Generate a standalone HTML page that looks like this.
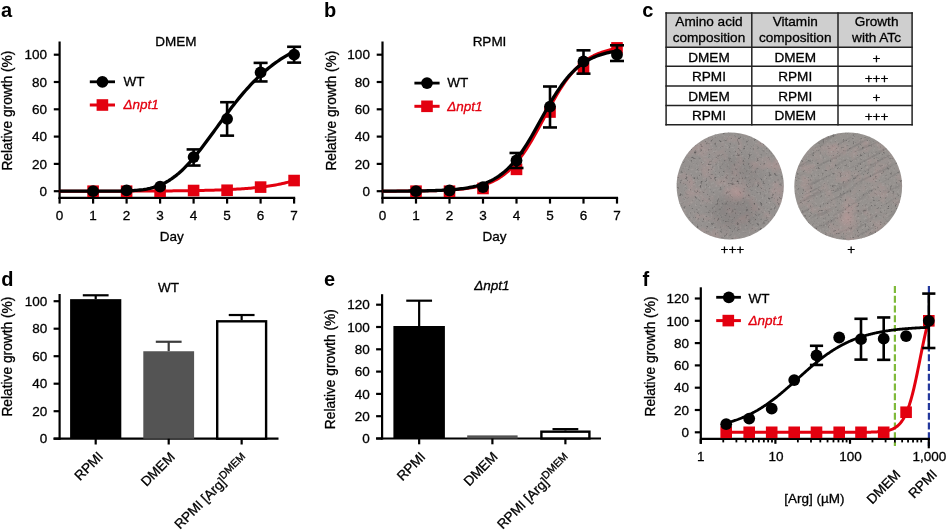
<!DOCTYPE html>
<html><head><meta charset="utf-8"><style>
html,body{margin:0;padding:0;background:#fff;width:946px;height:532px;overflow:hidden}
svg{display:block;font-family:"Liberation Sans",sans-serif;will-change:transform}
text{stroke:#000;stroke-width:0.3px}
</style></head><body>
<svg width="946" height="532" viewBox="0 0 946 532">
<rect width="946" height="532" fill="#fff"/>
<line x1="59.60" y1="41.50" x2="59.60" y2="199.00" stroke="#000" stroke-width="2.2" />
<line x1="58.50" y1="197.90" x2="295.20" y2="197.90" stroke="#000" stroke-width="2.2" />
<line x1="53.80" y1="191.20" x2="59.60" y2="191.20" stroke="#000" stroke-width="2.2" />
<text x="47.00" y="195.90" font-size="13.5" text-anchor="end" font-weight="normal" font-style="normal" fill="#000" >0</text>
<line x1="53.80" y1="163.90" x2="59.60" y2="163.90" stroke="#000" stroke-width="2.2" />
<text x="47.00" y="168.60" font-size="13.5" text-anchor="end" font-weight="normal" font-style="normal" fill="#000" >20</text>
<line x1="53.80" y1="136.60" x2="59.60" y2="136.60" stroke="#000" stroke-width="2.2" />
<text x="47.00" y="141.30" font-size="13.5" text-anchor="end" font-weight="normal" font-style="normal" fill="#000" >40</text>
<line x1="53.80" y1="109.30" x2="59.60" y2="109.30" stroke="#000" stroke-width="2.2" />
<text x="47.00" y="114.00" font-size="13.5" text-anchor="end" font-weight="normal" font-style="normal" fill="#000" >60</text>
<line x1="53.80" y1="82.00" x2="59.60" y2="82.00" stroke="#000" stroke-width="2.2" />
<text x="47.00" y="86.70" font-size="13.5" text-anchor="end" font-weight="normal" font-style="normal" fill="#000" >80</text>
<line x1="53.80" y1="54.70" x2="59.60" y2="54.70" stroke="#000" stroke-width="2.2" />
<text x="47.00" y="59.40" font-size="13.5" text-anchor="end" font-weight="normal" font-style="normal" fill="#000" >100</text>
<line x1="59.60" y1="197.90" x2="59.60" y2="203.60" stroke="#000" stroke-width="2.2" />
<text x="59.60" y="219.90" font-size="13.5" text-anchor="middle" font-weight="normal" font-style="normal" fill="#000" >0</text>
<line x1="93.10" y1="197.90" x2="93.10" y2="203.60" stroke="#000" stroke-width="2.2" />
<text x="93.10" y="219.90" font-size="13.5" text-anchor="middle" font-weight="normal" font-style="normal" fill="#000" >1</text>
<line x1="126.60" y1="197.90" x2="126.60" y2="203.60" stroke="#000" stroke-width="2.2" />
<text x="126.60" y="219.90" font-size="13.5" text-anchor="middle" font-weight="normal" font-style="normal" fill="#000" >2</text>
<line x1="160.10" y1="197.90" x2="160.10" y2="203.60" stroke="#000" stroke-width="2.2" />
<text x="160.10" y="219.90" font-size="13.5" text-anchor="middle" font-weight="normal" font-style="normal" fill="#000" >3</text>
<line x1="193.60" y1="197.90" x2="193.60" y2="203.60" stroke="#000" stroke-width="2.2" />
<text x="193.60" y="219.90" font-size="13.5" text-anchor="middle" font-weight="normal" font-style="normal" fill="#000" >4</text>
<line x1="227.10" y1="197.90" x2="227.10" y2="203.60" stroke="#000" stroke-width="2.2" />
<text x="227.10" y="219.90" font-size="13.5" text-anchor="middle" font-weight="normal" font-style="normal" fill="#000" >5</text>
<line x1="260.60" y1="197.90" x2="260.60" y2="203.60" stroke="#000" stroke-width="2.2" />
<text x="260.60" y="219.90" font-size="13.5" text-anchor="middle" font-weight="normal" font-style="normal" fill="#000" >6</text>
<line x1="294.10" y1="197.90" x2="294.10" y2="203.60" stroke="#000" stroke-width="2.2" />
<text x="294.10" y="219.90" font-size="13.5" text-anchor="middle" font-weight="normal" font-style="normal" fill="#000" >7</text>
<text x="171.70" y="240.60" font-size="13.5" text-anchor="middle" font-weight="normal" font-style="normal" fill="#000" >Day</text>
<text x="175.90" y="46.30" font-size="13.5" text-anchor="middle" font-weight="normal" font-style="normal" fill="#000" >DMEM</text>
<text transform="translate(12.40,110.60) rotate(-90)" x="0" y="0" font-size="13.75" text-anchor="middle">Relative growth (%)</text>
<polyline points="59.60,191.19 61.27,191.19 62.95,191.19 64.62,191.19 66.30,191.18 67.97,191.18 69.65,191.18 71.33,191.18 73.00,191.18 74.67,191.18 76.35,191.18 78.03,191.18 79.70,191.18 81.38,191.18 83.05,191.17 84.72,191.17 86.40,191.17 88.08,191.17 89.75,191.17 91.42,191.17 93.10,191.17 94.78,191.16 96.45,191.16 98.12,191.16 99.80,191.16 101.47,191.16 103.15,191.16 104.83,191.15 106.50,191.15 108.17,191.15 109.85,191.15 111.53,191.14 113.20,191.14 114.88,191.14 116.55,191.13 118.22,191.13 119.90,191.13 121.58,191.12 123.25,191.12 124.93,191.12 126.60,191.11 128.28,191.11 129.95,191.10 131.62,191.10 133.30,191.09 134.97,191.09 136.65,191.08 138.33,191.08 140.00,191.07 141.68,191.07 143.35,191.06 145.03,191.05 146.70,191.04 148.38,191.04 150.05,191.03 151.72,191.02 153.40,191.01 155.08,191.00 156.75,190.99 158.43,190.98 160.10,190.97 161.78,190.96 163.45,190.95 165.12,190.94 166.80,190.92 168.47,190.91 170.15,190.89 171.83,190.88 173.50,190.86 175.18,190.85 176.85,190.83 178.53,190.81 180.20,190.79 181.88,190.77 183.55,190.75 185.22,190.73 186.90,190.71 188.57,190.68 190.25,190.66 191.93,190.63 193.60,190.60 195.27,190.57 196.95,190.54 198.62,190.51 200.30,190.48 201.97,190.44 203.65,190.40 205.32,190.36 207.00,190.32 208.68,190.28 210.35,190.23 212.02,190.19 213.70,190.14 215.38,190.08 217.05,190.03 218.72,189.97 220.40,189.91 222.07,189.85 223.75,189.78 225.43,189.71 227.10,189.64 228.77,189.56 230.45,189.48 232.12,189.40 233.80,189.31 235.47,189.22 237.15,189.12 238.82,189.02 240.50,188.91 242.18,188.80 243.85,188.68 245.52,188.55 247.20,188.42 248.88,188.29 250.55,188.14 252.22,187.99 253.90,187.84 255.57,187.67 257.25,187.50 258.93,187.31 260.60,187.12 262.27,186.92 263.95,186.71 265.62,186.49 267.30,186.26 268.98,186.02 270.65,185.76 272.32,185.50 274.00,185.21 275.68,184.92 277.35,184.61 279.02,184.29 280.70,183.95 282.38,183.59 284.05,183.22 285.73,182.82 287.40,182.41 289.07,181.98 290.75,181.53 292.43,181.05 294.10,180.55" fill="none" stroke="#e3000f" stroke-width="3.0" stroke-linejoin="round" stroke-linecap="butt"/>
<rect x="87.30" y="185.40" width="11.60" height="11.60" fill="#e3000f" />
<rect x="120.80" y="185.40" width="11.60" height="11.60" fill="#e3000f" />
<rect x="154.30" y="185.40" width="11.60" height="11.60" fill="#e3000f" />
<rect x="187.80" y="184.72" width="11.60" height="11.60" fill="#e3000f" />
<rect x="221.30" y="184.44" width="11.60" height="11.60" fill="#e3000f" />
<rect x="254.80" y="181.30" width="11.60" height="11.60" fill="#e3000f" />
<rect x="288.30" y="174.75" width="11.60" height="11.60" fill="#e3000f" />
<polyline points="59.60,191.20 61.27,191.20 62.95,191.20 64.62,191.20 66.30,191.20 67.97,191.20 69.65,191.20 71.33,191.20 73.00,191.20 74.67,191.20 76.35,191.20 78.03,191.20 79.70,191.20 81.38,191.20 83.05,191.20 84.72,191.20 86.40,191.20 88.08,191.20 89.75,191.20 91.42,191.20 93.10,191.20 94.78,191.20 96.45,191.20 98.12,191.19 99.80,191.19 101.47,191.19 103.15,191.19 104.83,191.18 106.50,191.18 108.17,191.17 109.85,191.17 111.53,191.16 113.20,191.15 114.88,191.13 116.55,191.12 118.22,191.09 119.90,191.07 121.58,191.04 123.25,191.00 124.93,190.96 126.60,190.91 128.28,190.85 129.95,190.77 131.62,190.69 133.30,190.59 134.97,190.47 136.65,190.34 138.33,190.18 140.00,190.00 141.68,189.80 143.35,189.57 145.03,189.30 146.70,189.01 148.38,188.67 150.05,188.30 151.72,187.89 153.40,187.43 155.08,186.92 156.75,186.36 158.43,185.74 160.10,185.07 161.78,184.35 163.45,183.56 165.12,182.70 166.80,181.78 168.47,180.80 170.15,179.75 171.83,178.62 173.50,177.43 175.18,176.17 176.85,174.84 178.53,173.44 180.20,171.97 181.88,170.44 183.55,168.83 185.22,167.17 186.90,165.44 188.57,163.65 190.25,161.80 191.93,159.90 193.60,157.94 195.27,155.94 196.95,153.89 198.62,151.80 200.30,149.67 201.97,147.51 203.65,145.31 205.32,143.09 207.00,140.84 208.68,138.58 210.35,136.30 212.02,134.01 213.70,131.71 215.38,129.40 217.05,127.10 218.72,124.80 220.40,122.50 222.07,120.21 223.75,117.94 225.43,115.67 227.10,113.43 228.77,111.21 230.45,109.01 232.12,106.83 233.80,104.68 235.47,102.56 237.15,100.47 238.82,98.41 240.50,96.38 242.18,94.39 243.85,92.44 245.52,90.52 247.20,88.64 248.88,86.79 250.55,84.99 252.22,83.23 253.90,81.50 255.57,79.81 257.25,78.17 258.93,76.56 260.60,75.00 262.27,73.47 263.95,71.99 265.62,70.54 267.30,69.13 268.98,67.77 270.65,66.44 272.32,65.14 274.00,63.89 275.68,62.67 277.35,61.49 279.02,60.34 280.70,59.23 282.38,58.15 284.05,57.11 285.73,56.10 287.40,55.12 289.07,54.17 290.75,53.26 292.43,52.37 294.10,51.51" fill="none" stroke="#000" stroke-width="3.3" stroke-linejoin="round" stroke-linecap="butt"/>
<circle cx="93.10" cy="191.20" r="5.9" fill="#000"/>
<circle cx="126.60" cy="190.38" r="5.9" fill="#000"/>
<circle cx="160.10" cy="186.56" r="5.9" fill="#000"/>
<line x1="193.60" y1="149.43" x2="193.60" y2="165.54" stroke="#000" stroke-width="2.6" />
<line x1="186.60" y1="149.43" x2="200.60" y2="149.43" stroke="#000" stroke-width="2.6" />
<line x1="186.60" y1="165.54" x2="200.60" y2="165.54" stroke="#000" stroke-width="2.6" />
<circle cx="193.60" cy="157.07" r="5.9" fill="#000"/>
<line x1="227.10" y1="102.20" x2="227.10" y2="135.64" stroke="#000" stroke-width="2.6" />
<line x1="220.10" y1="102.20" x2="234.10" y2="102.20" stroke="#000" stroke-width="2.6" />
<line x1="220.10" y1="135.64" x2="234.10" y2="135.64" stroke="#000" stroke-width="2.6" />
<circle cx="227.10" cy="118.85" r="5.9" fill="#000"/>
<line x1="260.60" y1="62.89" x2="260.60" y2="81.45" stroke="#000" stroke-width="2.6" />
<line x1="253.60" y1="62.89" x2="267.60" y2="62.89" stroke="#000" stroke-width="2.6" />
<line x1="253.60" y1="81.45" x2="267.60" y2="81.45" stroke="#000" stroke-width="2.6" />
<circle cx="260.60" cy="72.44" r="5.9" fill="#000"/>
<line x1="294.10" y1="46.78" x2="294.10" y2="62.62" stroke="#000" stroke-width="2.6" />
<line x1="287.10" y1="46.78" x2="301.10" y2="46.78" stroke="#000" stroke-width="2.6" />
<line x1="287.10" y1="62.62" x2="301.10" y2="62.62" stroke="#000" stroke-width="2.6" />
<circle cx="294.10" cy="54.70" r="5.9" fill="#000"/>
<line x1="89.80" y1="81.80" x2="115.00" y2="81.80" stroke="#000" stroke-width="2.8" />
<circle cx="102.40" cy="81.80" r="5.9" fill="#000"/>
<line x1="89.80" y1="105.00" x2="115.00" y2="105.00" stroke="#e3000f" stroke-width="3.0" />
<rect x="96.60" y="99.20" width="11.60" height="11.60" fill="#e3000f" />
<text x="123.40" y="86.00" font-size="13.5" text-anchor="start" font-weight="normal" font-style="normal" fill="#000" >WT</text>
<text x="123.40" y="109.40" font-size="13.5" text-anchor="start" font-weight="normal" font-style="italic" fill="#e3000f" style="stroke:#e3000f" >Δnpt1</text>
<line x1="382.50" y1="41.50" x2="382.50" y2="199.00" stroke="#000" stroke-width="2.2" />
<line x1="381.40" y1="197.90" x2="618.10" y2="197.90" stroke="#000" stroke-width="2.2" />
<line x1="376.70" y1="191.20" x2="382.50" y2="191.20" stroke="#000" stroke-width="2.2" />
<text x="369.90" y="195.90" font-size="13.5" text-anchor="end" font-weight="normal" font-style="normal" fill="#000" >0</text>
<line x1="376.70" y1="163.90" x2="382.50" y2="163.90" stroke="#000" stroke-width="2.2" />
<text x="369.90" y="168.60" font-size="13.5" text-anchor="end" font-weight="normal" font-style="normal" fill="#000" >20</text>
<line x1="376.70" y1="136.60" x2="382.50" y2="136.60" stroke="#000" stroke-width="2.2" />
<text x="369.90" y="141.30" font-size="13.5" text-anchor="end" font-weight="normal" font-style="normal" fill="#000" >40</text>
<line x1="376.70" y1="109.30" x2="382.50" y2="109.30" stroke="#000" stroke-width="2.2" />
<text x="369.90" y="114.00" font-size="13.5" text-anchor="end" font-weight="normal" font-style="normal" fill="#000" >60</text>
<line x1="376.70" y1="82.00" x2="382.50" y2="82.00" stroke="#000" stroke-width="2.2" />
<text x="369.90" y="86.70" font-size="13.5" text-anchor="end" font-weight="normal" font-style="normal" fill="#000" >80</text>
<line x1="376.70" y1="54.70" x2="382.50" y2="54.70" stroke="#000" stroke-width="2.2" />
<text x="369.90" y="59.40" font-size="13.5" text-anchor="end" font-weight="normal" font-style="normal" fill="#000" >100</text>
<line x1="382.50" y1="197.90" x2="382.50" y2="203.60" stroke="#000" stroke-width="2.2" />
<text x="382.50" y="219.90" font-size="13.5" text-anchor="middle" font-weight="normal" font-style="normal" fill="#000" >0</text>
<line x1="416.00" y1="197.90" x2="416.00" y2="203.60" stroke="#000" stroke-width="2.2" />
<text x="416.00" y="219.90" font-size="13.5" text-anchor="middle" font-weight="normal" font-style="normal" fill="#000" >1</text>
<line x1="449.50" y1="197.90" x2="449.50" y2="203.60" stroke="#000" stroke-width="2.2" />
<text x="449.50" y="219.90" font-size="13.5" text-anchor="middle" font-weight="normal" font-style="normal" fill="#000" >2</text>
<line x1="483.00" y1="197.90" x2="483.00" y2="203.60" stroke="#000" stroke-width="2.2" />
<text x="483.00" y="219.90" font-size="13.5" text-anchor="middle" font-weight="normal" font-style="normal" fill="#000" >3</text>
<line x1="516.50" y1="197.90" x2="516.50" y2="203.60" stroke="#000" stroke-width="2.2" />
<text x="516.50" y="219.90" font-size="13.5" text-anchor="middle" font-weight="normal" font-style="normal" fill="#000" >4</text>
<line x1="550.00" y1="197.90" x2="550.00" y2="203.60" stroke="#000" stroke-width="2.2" />
<text x="550.00" y="219.90" font-size="13.5" text-anchor="middle" font-weight="normal" font-style="normal" fill="#000" >5</text>
<line x1="583.50" y1="197.90" x2="583.50" y2="203.60" stroke="#000" stroke-width="2.2" />
<text x="583.50" y="219.90" font-size="13.5" text-anchor="middle" font-weight="normal" font-style="normal" fill="#000" >6</text>
<line x1="617.00" y1="197.90" x2="617.00" y2="203.60" stroke="#000" stroke-width="2.2" />
<text x="617.00" y="219.90" font-size="13.5" text-anchor="middle" font-weight="normal" font-style="normal" fill="#000" >7</text>
<text x="494.60" y="240.60" font-size="13.5" text-anchor="middle" font-weight="normal" font-style="normal" fill="#000" >Day</text>
<text x="489.50" y="46.30" font-size="13.5" text-anchor="middle" font-weight="normal" font-style="normal" fill="#000" >RPMI</text>
<text transform="translate(336.30,110.60) rotate(-90)" x="0" y="0" font-size="13.75" text-anchor="middle">Relative growth (%)</text>
<polyline points="382.50,191.16 384.18,191.16 385.85,191.16 387.52,191.15 389.20,191.15 390.88,191.14 392.55,191.14 394.23,191.13 395.90,191.13 397.57,191.12 399.25,191.11 400.93,191.11 402.60,191.10 404.27,191.09 405.95,191.08 407.62,191.07 409.30,191.06 410.98,191.04 412.65,191.03 414.32,191.02 416.00,191.00 417.68,190.98 419.35,190.96 421.02,190.94 422.70,190.92 424.38,190.89 426.05,190.86 427.73,190.83 429.40,190.80 431.07,190.76 432.75,190.72 434.43,190.68 436.10,190.64 437.77,190.58 439.45,190.53 441.12,190.47 442.80,190.40 444.48,190.33 446.15,190.26 447.82,190.17 449.50,190.08 451.18,189.98 452.85,189.87 454.52,189.75 456.20,189.62 457.88,189.48 459.55,189.33 461.23,189.16 462.90,188.98 464.57,188.79 466.25,188.57 467.93,188.34 469.60,188.09 471.27,187.82 472.95,187.52 474.62,187.20 476.30,186.85 477.98,186.47 479.65,186.06 481.32,185.61 483.00,185.13 484.68,184.61 486.35,184.04 488.02,183.43 489.70,182.77 491.38,182.06 493.05,181.29 494.73,180.47 496.40,179.58 498.07,178.62 499.75,177.60 501.43,176.49 503.10,175.31 504.77,174.05 506.45,172.70 508.12,171.27 509.80,169.74 511.48,168.11 513.15,166.38 514.83,164.56 516.50,162.63 518.17,160.59 519.85,158.46 521.52,156.21 523.20,153.87 524.88,151.42 526.55,148.88 528.23,146.24 529.90,143.52 531.58,140.71 533.25,137.82 534.92,134.87 536.60,131.86 538.27,128.80 539.95,125.70 541.62,122.57 543.30,119.43 544.98,116.28 546.65,113.14 548.33,110.02 550.00,106.93 551.67,103.88 553.35,100.88 555.02,97.94 556.70,95.07 558.38,92.28 560.05,89.57 561.73,86.95 563.40,84.43 565.08,82.00 566.75,79.68 568.42,77.45 570.10,75.34 571.77,73.32 573.45,71.42 575.12,69.61 576.80,67.90 578.48,66.30 580.15,64.78 581.83,63.36 583.50,62.03 585.17,60.79 586.85,59.62 588.52,58.54 590.20,57.53 591.88,56.58 593.55,55.71 595.23,54.89 596.90,54.14 598.58,53.44 600.25,52.79 601.92,52.19 603.60,51.63 605.27,51.12 606.95,50.64 608.62,50.20 610.30,49.80 611.98,49.43 613.65,49.08 615.33,48.76 617.00,48.47" fill="none" stroke="#e3000f" stroke-width="3.0" stroke-linejoin="round" stroke-linecap="butt"/>
<rect x="410.20" y="185.40" width="11.60" height="11.60" fill="#e3000f" />
<rect x="443.70" y="185.40" width="11.60" height="11.60" fill="#e3000f" />
<rect x="477.20" y="182.67" width="11.60" height="11.60" fill="#e3000f" />
<rect x="510.70" y="163.56" width="11.60" height="11.60" fill="#e3000f" />
<rect x="544.20" y="106.23" width="11.60" height="11.60" fill="#e3000f" />
<rect x="577.70" y="62.55" width="11.60" height="11.60" fill="#e3000f" />
<rect x="611.20" y="42.08" width="11.60" height="11.60" fill="#e3000f" />
<polyline points="382.50,191.15 384.18,191.15 385.85,191.15 387.52,191.14 389.20,191.14 390.88,191.13 392.55,191.12 394.23,191.12 395.90,191.11 397.57,191.10 399.25,191.09 400.93,191.08 402.60,191.07 404.27,191.06 405.95,191.05 407.62,191.03 409.30,191.02 410.98,191.00 412.65,190.99 414.32,190.97 416.00,190.95 417.68,190.93 419.35,190.90 421.02,190.87 422.70,190.85 424.38,190.81 426.05,190.78 427.73,190.74 429.40,190.70 431.07,190.66 432.75,190.61 434.43,190.56 436.10,190.50 437.77,190.44 439.45,190.37 441.12,190.30 442.80,190.22 444.48,190.14 446.15,190.04 447.82,189.94 449.50,189.83 451.18,189.71 452.85,189.58 454.52,189.44 456.20,189.28 457.88,189.11 459.55,188.93 461.23,188.73 462.90,188.52 464.57,188.28 466.25,188.03 467.93,187.76 469.60,187.46 471.27,187.14 472.95,186.79 474.62,186.41 476.30,186.00 477.98,185.55 479.65,185.08 481.32,184.56 483.00,184.00 484.68,183.39 486.35,182.74 488.02,182.04 489.70,181.28 491.38,180.47 493.05,179.59 494.73,178.65 496.40,177.64 498.07,176.56 499.75,175.41 501.43,174.17 503.10,172.86 504.77,171.45 506.45,169.96 508.12,168.38 509.80,166.70 511.48,164.92 513.15,163.05 514.83,161.08 516.50,159.00 518.17,156.83 519.85,154.56 521.52,152.20 523.20,149.74 524.88,147.19 526.55,144.56 528.23,141.85 529.90,139.07 531.58,136.22 533.25,133.31 534.92,130.36 536.60,127.37 538.27,124.35 539.95,121.32 541.62,118.28 543.30,115.24 544.98,112.22 546.65,109.23 548.33,106.27 550.00,103.36 551.67,100.51 553.35,97.72 555.02,95.00 556.70,92.36 558.38,89.81 560.05,87.34 561.73,84.97 563.40,82.69 565.08,80.51 566.75,78.43 568.42,76.45 570.10,74.57 571.77,72.79 573.45,71.10 575.12,69.51 576.80,68.01 578.48,66.60 580.15,65.28 581.83,64.04 583.50,62.87 585.17,61.79 586.85,60.77 588.52,59.83 590.20,58.95 591.88,58.13 593.55,57.37 595.23,56.66 596.90,56.01 598.58,55.40 600.25,54.83 601.92,54.31 603.60,53.83 605.27,53.38 606.95,52.97 608.62,52.59 610.30,52.24 611.98,51.91 613.65,51.61 615.33,51.34 617.00,51.08" fill="none" stroke="#000" stroke-width="3.3" stroke-linejoin="round" stroke-linecap="butt"/>
<circle cx="416.00" cy="191.20" r="5.9" fill="#000"/>
<circle cx="449.50" cy="190.52" r="5.9" fill="#000"/>
<circle cx="483.00" cy="187.10" r="5.9" fill="#000"/>
<line x1="516.50" y1="152.98" x2="516.50" y2="168.00" stroke="#000" stroke-width="2.6" />
<line x1="509.50" y1="152.98" x2="523.50" y2="152.98" stroke="#000" stroke-width="2.6" />
<line x1="509.50" y1="168.00" x2="523.50" y2="168.00" stroke="#000" stroke-width="2.6" />
<circle cx="516.50" cy="160.49" r="5.9" fill="#000"/>
<line x1="550.00" y1="86.50" x2="550.00" y2="127.45" stroke="#000" stroke-width="2.6" />
<line x1="543.00" y1="86.50" x2="557.00" y2="86.50" stroke="#000" stroke-width="2.6" />
<line x1="543.00" y1="127.45" x2="557.00" y2="127.45" stroke="#000" stroke-width="2.6" />
<circle cx="550.00" cy="106.57" r="5.9" fill="#000"/>
<line x1="583.50" y1="50.33" x2="583.50" y2="73.67" stroke="#000" stroke-width="2.6" />
<line x1="576.50" y1="50.33" x2="590.50" y2="50.33" stroke="#000" stroke-width="2.6" />
<line x1="576.50" y1="73.67" x2="590.50" y2="73.67" stroke="#000" stroke-width="2.6" />
<circle cx="583.50" cy="61.52" r="5.9" fill="#000"/>
<line x1="617.00" y1="45.28" x2="617.00" y2="60.98" stroke="#000" stroke-width="2.6" />
<line x1="610.00" y1="45.28" x2="624.00" y2="45.28" stroke="#000" stroke-width="2.6" />
<line x1="610.00" y1="60.98" x2="624.00" y2="60.98" stroke="#000" stroke-width="2.6" />
<circle cx="617.00" cy="54.70" r="5.9" fill="#000"/>
<line x1="414.40" y1="83.10" x2="439.60" y2="83.10" stroke="#000" stroke-width="2.8" />
<circle cx="427.00" cy="83.10" r="5.9" fill="#000"/>
<line x1="414.40" y1="106.30" x2="439.60" y2="106.30" stroke="#e3000f" stroke-width="3.0" />
<rect x="421.20" y="100.50" width="11.60" height="11.60" fill="#e3000f" />
<text x="447.20" y="87.30" font-size="13.5" text-anchor="start" font-weight="normal" font-style="normal" fill="#000" >WT</text>
<text x="447.20" y="110.70" font-size="13.5" text-anchor="start" font-weight="normal" font-style="italic" fill="#e3000f" style="stroke:#e3000f" >Δnpt1</text>
<rect x="666.10" y="13.00" width="246.00" height="34.20" fill="#cfcfcf" />
<line x1="665.40" y1="13.00" x2="912.80" y2="13.00" stroke="#222" stroke-width="1.5" />
<line x1="665.40" y1="47.20" x2="912.80" y2="47.20" stroke="#222" stroke-width="1.5" />
<line x1="665.40" y1="66.30" x2="912.80" y2="66.30" stroke="#222" stroke-width="1.5" />
<line x1="665.40" y1="86.10" x2="912.80" y2="86.10" stroke="#222" stroke-width="1.5" />
<line x1="665.40" y1="105.50" x2="912.80" y2="105.50" stroke="#222" stroke-width="1.5" />
<line x1="665.40" y1="124.70" x2="912.80" y2="124.70" stroke="#222" stroke-width="1.5" />
<line x1="666.10" y1="12.30" x2="666.10" y2="125.40" stroke="#222" stroke-width="1.5" />
<line x1="751.80" y1="12.30" x2="751.80" y2="125.40" stroke="#222" stroke-width="1.5" />
<line x1="838.00" y1="12.30" x2="838.00" y2="125.40" stroke="#222" stroke-width="1.5" />
<line x1="912.10" y1="12.30" x2="912.10" y2="125.40" stroke="#222" stroke-width="1.5" />
<text x="708.95" y="25.80" font-size="13.6" text-anchor="middle" font-weight="normal" font-style="normal" fill="#000" >Amino acid</text>
<text x="708.95" y="41.80" font-size="13.6" text-anchor="middle" font-weight="normal" font-style="normal" fill="#000" >composition</text>
<text x="795.20" y="25.80" font-size="13.6" text-anchor="middle" font-weight="normal" font-style="normal" fill="#000" >Vitamin</text>
<text x="795.20" y="41.80" font-size="13.6" text-anchor="middle" font-weight="normal" font-style="normal" fill="#000" >composition</text>
<text x="876.55" y="25.80" font-size="13.6" text-anchor="middle" font-weight="normal" font-style="normal" fill="#000" >Growth</text>
<text x="876.55" y="41.80" font-size="13.6" text-anchor="middle" font-weight="normal" font-style="normal" fill="#000" >with ATc</text>
<text x="708.95" y="61.80" font-size="13.6" text-anchor="middle" font-weight="normal" font-style="normal" fill="#000" >DMEM</text>
<text x="795.20" y="61.80" font-size="13.6" text-anchor="middle" font-weight="normal" font-style="normal" fill="#000" >DMEM</text>
<text x="876.55" y="63.00" font-size="13.6" text-anchor="middle" font-weight="normal" font-style="normal" fill="#000" >+</text>
<text x="708.95" y="81.30" font-size="13.6" text-anchor="middle" font-weight="normal" font-style="normal" fill="#000" >RPMI</text>
<text x="795.20" y="81.30" font-size="13.6" text-anchor="middle" font-weight="normal" font-style="normal" fill="#000" >RPMI</text>
<text x="876.55" y="82.50" font-size="13.6" text-anchor="middle" font-weight="normal" font-style="normal" fill="#000" >+++</text>
<text x="708.95" y="100.80" font-size="13.6" text-anchor="middle" font-weight="normal" font-style="normal" fill="#000" >DMEM</text>
<text x="795.20" y="100.80" font-size="13.6" text-anchor="middle" font-weight="normal" font-style="normal" fill="#000" >RPMI</text>
<text x="876.55" y="102.00" font-size="13.6" text-anchor="middle" font-weight="normal" font-style="normal" fill="#000" >+</text>
<text x="708.95" y="120.10" font-size="13.6" text-anchor="middle" font-weight="normal" font-style="normal" fill="#000" >RPMI</text>
<text x="795.20" y="120.10" font-size="13.6" text-anchor="middle" font-weight="normal" font-style="normal" fill="#000" >DMEM</text>
<text x="876.55" y="121.30" font-size="13.6" text-anchor="middle" font-weight="normal" font-style="normal" fill="#000" >+++</text>
<defs><filter id="spk" x="0" y="0" width="100%" height="100%" color-interpolation-filters="sRGB"><feTurbulence type="fractalNoise" baseFrequency="0.35" numOctaves="3" seed="7"/><feColorMatrix type="matrix" values="0 0 0 0 0.33  0 0 0 0 0.32  0 0 0 0 0.32  3.2 0 0 0 -1.95"/></filter><filter id="lgt" x="0" y="0" width="100%" height="100%" color-interpolation-filters="sRGB"><feTurbulence type="fractalNoise" baseFrequency="0.45" numOctaves="2" seed="23"/><feColorMatrix type="matrix" values="0 0 0 0 0.68  0 0 0 0 0.66  0 0 0 0 0.65  0 2.0 0 0 -1.12"/></filter><filter id="pnk" x="0" y="0" width="100%" height="100%" color-interpolation-filters="sRGB"><feTurbulence type="fractalNoise" baseFrequency="0.07" numOctaves="3" seed="11"/><feColorMatrix type="matrix" values="0 0 0 0 0.78  0 0 0 0 0.60  0 0 0 0 0.60  0 0.8 0 0 -0.36"/></filter><filter id="str" x="0" y="0" width="100%" height="100%" color-interpolation-filters="sRGB"><feTurbulence type="fractalNoise" baseFrequency="0.03 0.3" numOctaves="2" seed="5"/><feColorMatrix type="matrix" values="0 0 0 0 0.42  0 0 0 0 0.41  0 0 0 0 0.41  1.6 0 0 0 -0.88"/></filter><filter id="spk2" x="0" y="0" width="100%" height="100%" color-interpolation-filters="sRGB"><feTurbulence type="fractalNoise" baseFrequency="0.4" numOctaves="3" seed="19"/><feColorMatrix type="matrix" values="0 0 0 0 0.33  0 0 0 0 0.32  0 0 0 0 0.32  3.2 0 0 0 -2.0"/></filter><filter id="bl" x="-50%" y="-50%" width="200%" height="200%"><feGaussianBlur stdDeviation="4"/></filter><clipPath id="c1"><circle cx="730.2" cy="186" r="53.6"/></clipPath><clipPath id="c2"><circle cx="848.2" cy="186.3" r="53.9"/></clipPath></defs>
<g clip-path="url(#c1)"><rect x="676" y="132" width="109" height="109" fill="#95918f"/><rect x="676" y="132" width="109" height="109" filter="url(#pnk)"/><rect x="676" y="132" width="109" height="109" filter="url(#lgt)"/><rect x="676" y="132" width="109" height="109" filter="url(#spk)"/><ellipse cx="735" cy="212" rx="24" ry="18" fill="#5a5656" opacity="0.18" filter="url(#bl)"/><ellipse cx="742" cy="170" rx="22" ry="12" fill="#5a5656" opacity="0.12" filter="url(#bl)" transform="rotate(30 742 170)"/><circle cx="736" cy="192" r="7" fill="#d8a0a0" opacity="0.5" filter="url(#bl)"/></g>
<g clip-path="url(#c2)"><rect x="794" y="132" width="109" height="109" fill="#96928f"/><rect x="794" y="132" width="109" height="109" filter="url(#pnk)"/><g transform="rotate(-28 848 186)"><rect x="770" y="110" width="160" height="160" filter="url(#str)"/></g><rect x="794" y="132" width="109" height="109" filter="url(#lgt)"/><rect x="794" y="132" width="109" height="109" filter="url(#spk2)"/><circle cx="847" cy="220" r="7" fill="#d8a0a0" opacity="0.45" filter="url(#bl)"/></g>
<text x="732.40" y="253.70" font-size="13.6" text-anchor="middle" font-weight="normal" font-style="normal" fill="#000" >+++</text>
<text x="851.30" y="253.70" font-size="13.6" text-anchor="middle" font-weight="normal" font-style="normal" fill="#000" >+</text>
<line x1="59.60" y1="294.00" x2="59.60" y2="439.80" stroke="#000" stroke-width="2.2" />
<line x1="53.60" y1="438.70" x2="278.50" y2="438.70" stroke="#000" stroke-width="2.2" />
<line x1="53.60" y1="438.70" x2="59.60" y2="438.70" stroke="#000" stroke-width="2.2" />
<text x="47.30" y="443.30" font-size="13.5" text-anchor="end" font-weight="normal" font-style="normal" fill="#000" >0</text>
<line x1="53.60" y1="411.20" x2="59.60" y2="411.20" stroke="#000" stroke-width="2.2" />
<text x="47.30" y="415.80" font-size="13.5" text-anchor="end" font-weight="normal" font-style="normal" fill="#000" >20</text>
<line x1="53.60" y1="383.70" x2="59.60" y2="383.70" stroke="#000" stroke-width="2.2" />
<text x="47.30" y="388.30" font-size="13.5" text-anchor="end" font-weight="normal" font-style="normal" fill="#000" >40</text>
<line x1="53.60" y1="356.20" x2="59.60" y2="356.20" stroke="#000" stroke-width="2.2" />
<text x="47.30" y="360.80" font-size="13.5" text-anchor="end" font-weight="normal" font-style="normal" fill="#000" >60</text>
<line x1="53.60" y1="328.70" x2="59.60" y2="328.70" stroke="#000" stroke-width="2.2" />
<text x="47.30" y="333.30" font-size="13.5" text-anchor="end" font-weight="normal" font-style="normal" fill="#000" >80</text>
<line x1="53.60" y1="301.20" x2="59.60" y2="301.20" stroke="#000" stroke-width="2.2" />
<text x="47.30" y="305.80" font-size="13.5" text-anchor="end" font-weight="normal" font-style="normal" fill="#000" >100</text>
<text transform="translate(12.20,356.60) rotate(-90)" x="0" y="0" font-size="13.75" text-anchor="middle">Relative growth (%)</text>
<text x="168.60" y="291.60" font-size="13.5" text-anchor="middle" font-weight="normal" font-style="normal" fill="#000" >WT</text>
<line x1="95.70" y1="299.14" x2="95.70" y2="295.29" stroke="#000" stroke-width="2.2" />
<line x1="82.80" y1="295.29" x2="108.60" y2="295.29" stroke="#000" stroke-width="2.2" />
<rect x="70.10" y="299.14" width="51.20" height="139.56" fill="#000" />
<line x1="95.70" y1="438.70" x2="95.70" y2="444.50" stroke="#000" stroke-width="2.2" />
<text transform="translate(103.90,457.40) rotate(-45)" font-size="13.5" text-anchor="end">RPMI</text>
<line x1="168.70" y1="351.25" x2="168.70" y2="341.76" stroke="#3c3c3c" stroke-width="2.2" />
<line x1="155.80" y1="341.76" x2="181.60" y2="341.76" stroke="#3c3c3c" stroke-width="2.2" />
<rect x="143.30" y="351.25" width="50.80" height="87.45" fill="#545454" />
<line x1="168.70" y1="438.70" x2="168.70" y2="444.50" stroke="#000" stroke-width="2.2" />
<text transform="translate(175.60,457.90) rotate(-45)" font-size="13.5" text-anchor="end">DMEM</text>
<line x1="241.65" y1="320.11" x2="241.65" y2="315.02" stroke="#000" stroke-width="2.2" />
<line x1="228.75" y1="315.02" x2="254.55" y2="315.02" stroke="#000" stroke-width="2.2" />
<rect x="217.20" y="321.31" width="48.90" height="117.39" fill="#fff" stroke="#000" stroke-width="2.4"/>
<line x1="241.65" y1="438.70" x2="241.65" y2="444.50" stroke="#000" stroke-width="2.2" />
<text transform="translate(249.45,460.50) rotate(-45)" font-size="13.5" text-anchor="end">RPMI [Arg]<tspan dy="-5" font-size="10.5">DMEM</tspan></text>
<line x1="382.10" y1="294.20" x2="382.10" y2="439.60" stroke="#000" stroke-width="2.2" />
<line x1="376.10" y1="438.50" x2="601.00" y2="438.50" stroke="#000" stroke-width="2.2" />
<line x1="376.10" y1="438.50" x2="382.10" y2="438.50" stroke="#000" stroke-width="2.2" />
<text x="369.80" y="443.10" font-size="13.5" text-anchor="end" font-weight="normal" font-style="normal" fill="#000" >0</text>
<line x1="376.10" y1="416.20" x2="382.10" y2="416.20" stroke="#000" stroke-width="2.2" />
<text x="369.80" y="420.80" font-size="13.5" text-anchor="end" font-weight="normal" font-style="normal" fill="#000" >20</text>
<line x1="376.10" y1="393.90" x2="382.10" y2="393.90" stroke="#000" stroke-width="2.2" />
<text x="369.80" y="398.50" font-size="13.5" text-anchor="end" font-weight="normal" font-style="normal" fill="#000" >40</text>
<line x1="376.10" y1="371.60" x2="382.10" y2="371.60" stroke="#000" stroke-width="2.2" />
<text x="369.80" y="376.20" font-size="13.5" text-anchor="end" font-weight="normal" font-style="normal" fill="#000" >60</text>
<line x1="376.10" y1="349.30" x2="382.10" y2="349.30" stroke="#000" stroke-width="2.2" />
<text x="369.80" y="353.90" font-size="13.5" text-anchor="end" font-weight="normal" font-style="normal" fill="#000" >80</text>
<line x1="376.10" y1="327.00" x2="382.10" y2="327.00" stroke="#000" stroke-width="2.2" />
<text x="369.80" y="331.60" font-size="13.5" text-anchor="end" font-weight="normal" font-style="normal" fill="#000" >100</text>
<line x1="376.10" y1="304.70" x2="382.10" y2="304.70" stroke="#000" stroke-width="2.2" />
<text x="369.80" y="309.30" font-size="13.5" text-anchor="end" font-weight="normal" font-style="normal" fill="#000" >120</text>
<text transform="translate(334.80,369.20) rotate(-90)" x="0" y="0" font-size="13.75" text-anchor="middle">Relative growth (%)</text>
<text x="491.80" y="290.40" font-size="13.5" text-anchor="middle" font-weight="normal" font-style="normal" fill="#000" ><tspan font-style="italic">Δnpt1</tspan></text>
<line x1="419.15" y1="326.00" x2="419.15" y2="300.69" stroke="#000" stroke-width="2.2" />
<line x1="406.25" y1="300.69" x2="432.05" y2="300.69" stroke="#000" stroke-width="2.2" />
<rect x="393.40" y="326.00" width="51.50" height="112.50" fill="#000" />
<line x1="419.15" y1="438.50" x2="419.15" y2="444.30" stroke="#000" stroke-width="2.2" />
<text transform="translate(426.25,457.60) rotate(-45)" font-size="13.5" text-anchor="end">RPMI</text>
<rect x="467.20" y="435.38" width="50.40" height="3.12" fill="#545454" />
<line x1="492.40" y1="438.50" x2="492.40" y2="444.30" stroke="#000" stroke-width="2.2" />
<text transform="translate(498.40,457.60) rotate(-45)" font-size="13.5" text-anchor="end">DMEM</text>
<line x1="565.40" y1="430.47" x2="565.40" y2="429.13" stroke="#000" stroke-width="2.2" />
<line x1="552.50" y1="429.13" x2="578.30" y2="429.13" stroke="#000" stroke-width="2.2" />
<rect x="541.40" y="431.67" width="48.00" height="6.83" fill="#fff" stroke="#000" stroke-width="2.4"/>
<line x1="565.40" y1="438.50" x2="565.40" y2="444.30" stroke="#000" stroke-width="2.2" />
<text transform="translate(572.10,460.50) rotate(-45)" font-size="13.5" text-anchor="end">RPMI [Arg]<tspan dy="-5" font-size="10.5">DMEM</tspan></text>
<line x1="894.90" y1="285.90" x2="894.90" y2="446.00" stroke="#7fba3a" stroke-width="2.2" stroke-dasharray="7.1 2.65"/>
<line x1="928.90" y1="285.90" x2="928.90" y2="446.00" stroke="#24389c" stroke-width="2.2" stroke-dasharray="7.1 2.65"/>
<line x1="700.80" y1="287.30" x2="700.80" y2="443.80" stroke="#000" stroke-width="2.2" />
<line x1="700.80" y1="438.80" x2="929.90" y2="438.80" stroke="#000" stroke-width="2.2" />
<line x1="694.80" y1="432.30" x2="700.80" y2="432.30" stroke="#000" stroke-width="2.2" />
<text x="689.00" y="437.00" font-size="13.5" text-anchor="end" font-weight="normal" font-style="normal" fill="#000" >0</text>
<line x1="694.80" y1="410.00" x2="700.80" y2="410.00" stroke="#000" stroke-width="2.2" />
<text x="689.00" y="414.70" font-size="13.5" text-anchor="end" font-weight="normal" font-style="normal" fill="#000" >20</text>
<line x1="694.80" y1="387.70" x2="700.80" y2="387.70" stroke="#000" stroke-width="2.2" />
<text x="689.00" y="392.40" font-size="13.5" text-anchor="end" font-weight="normal" font-style="normal" fill="#000" >40</text>
<line x1="694.80" y1="365.40" x2="700.80" y2="365.40" stroke="#000" stroke-width="2.2" />
<text x="689.00" y="370.10" font-size="13.5" text-anchor="end" font-weight="normal" font-style="normal" fill="#000" >60</text>
<line x1="694.80" y1="343.10" x2="700.80" y2="343.10" stroke="#000" stroke-width="2.2" />
<text x="689.00" y="347.80" font-size="13.5" text-anchor="end" font-weight="normal" font-style="normal" fill="#000" >80</text>
<line x1="694.80" y1="320.80" x2="700.80" y2="320.80" stroke="#000" stroke-width="2.2" />
<text x="689.00" y="325.50" font-size="13.5" text-anchor="end" font-weight="normal" font-style="normal" fill="#000" >100</text>
<line x1="694.80" y1="298.50" x2="700.80" y2="298.50" stroke="#000" stroke-width="2.2" />
<text x="689.00" y="303.20" font-size="13.5" text-anchor="end" font-weight="normal" font-style="normal" fill="#000" >120</text>
<line x1="700.80" y1="438.80" x2="700.80" y2="443.80" stroke="#000" stroke-width="2.2" />
<line x1="775.40" y1="438.80" x2="775.40" y2="443.80" stroke="#000" stroke-width="2.2" />
<line x1="850.00" y1="438.80" x2="850.00" y2="443.80" stroke="#000" stroke-width="2.2" />
<line x1="928.80" y1="438.80" x2="928.80" y2="448.30" stroke="#000" stroke-width="2.2" />
<line x1="723.26" y1="438.80" x2="723.26" y2="442.40" stroke="#000" stroke-width="1.8" />
<line x1="736.39" y1="438.80" x2="736.39" y2="442.40" stroke="#000" stroke-width="1.8" />
<line x1="745.71" y1="438.80" x2="745.71" y2="442.40" stroke="#000" stroke-width="1.8" />
<line x1="752.94" y1="438.80" x2="752.94" y2="442.40" stroke="#000" stroke-width="1.8" />
<line x1="758.85" y1="438.80" x2="758.85" y2="442.40" stroke="#000" stroke-width="1.8" />
<line x1="763.84" y1="438.80" x2="763.84" y2="442.40" stroke="#000" stroke-width="1.8" />
<line x1="768.17" y1="438.80" x2="768.17" y2="442.40" stroke="#000" stroke-width="1.8" />
<line x1="771.99" y1="438.80" x2="771.99" y2="442.40" stroke="#000" stroke-width="1.8" />
<line x1="797.86" y1="438.80" x2="797.86" y2="442.40" stroke="#000" stroke-width="1.8" />
<line x1="810.99" y1="438.80" x2="810.99" y2="442.40" stroke="#000" stroke-width="1.8" />
<line x1="820.31" y1="438.80" x2="820.31" y2="442.40" stroke="#000" stroke-width="1.8" />
<line x1="827.54" y1="438.80" x2="827.54" y2="442.40" stroke="#000" stroke-width="1.8" />
<line x1="833.45" y1="438.80" x2="833.45" y2="442.40" stroke="#000" stroke-width="1.8" />
<line x1="838.44" y1="438.80" x2="838.44" y2="442.40" stroke="#000" stroke-width="1.8" />
<line x1="842.77" y1="438.80" x2="842.77" y2="442.40" stroke="#000" stroke-width="1.8" />
<line x1="846.59" y1="438.80" x2="846.59" y2="442.40" stroke="#000" stroke-width="1.8" />
<line x1="872.46" y1="438.80" x2="872.46" y2="442.40" stroke="#000" stroke-width="1.8" />
<line x1="885.59" y1="438.80" x2="885.59" y2="442.40" stroke="#000" stroke-width="1.8" />
<line x1="894.91" y1="438.80" x2="894.91" y2="442.40" stroke="#000" stroke-width="1.8" />
<line x1="902.14" y1="438.80" x2="902.14" y2="442.40" stroke="#000" stroke-width="1.8" />
<line x1="908.05" y1="438.80" x2="908.05" y2="442.40" stroke="#000" stroke-width="1.8" />
<line x1="913.04" y1="438.80" x2="913.04" y2="442.40" stroke="#000" stroke-width="1.8" />
<line x1="917.37" y1="438.80" x2="917.37" y2="442.40" stroke="#000" stroke-width="1.8" />
<line x1="921.19" y1="438.80" x2="921.19" y2="442.40" stroke="#000" stroke-width="1.8" />
<text x="700.80" y="460.60" font-size="13.5" text-anchor="middle" font-weight="normal" font-style="normal" fill="#000" >1</text>
<text x="775.90" y="460.60" font-size="13.5" text-anchor="middle" font-weight="normal" font-style="normal" fill="#000" >10</text>
<text x="850.50" y="460.60" font-size="13.5" text-anchor="middle" font-weight="normal" font-style="normal" fill="#000" >100</text>
<text x="929.50" y="460.60" font-size="13.5" text-anchor="middle" font-weight="normal" font-style="normal" fill="#000" >1,000</text>
<text x="814.30" y="503.00" font-size="13.5" text-anchor="middle" font-weight="normal" font-style="normal" fill="#000" >[Arg] (µM)</text>
<text transform="translate(901.3,475.5) rotate(-45)" font-size="13.5" text-anchor="end">DMEM</text>
<text transform="translate(937.8,475.1) rotate(-45)" font-size="13.5" text-anchor="end">RPMI</text>
<polyline points="726.20,432.30 726.88,432.30 727.55,432.30 728.23,432.30 728.90,432.30 729.58,432.30 730.25,432.30 730.93,432.30 731.60,432.30 732.28,432.30 732.95,432.30 733.63,432.30 734.30,432.30 734.98,432.30 735.65,432.30 736.33,432.30 737.01,432.30 737.68,432.30 738.36,432.30 739.03,432.30 739.71,432.30 740.38,432.30 741.06,432.30 741.73,432.30 742.41,432.30 743.08,432.30 743.76,432.30 744.43,432.30 745.11,432.30 745.78,432.30 746.46,432.30 747.14,432.30 747.81,432.30 748.49,432.30 749.16,432.30 749.84,432.30 750.51,432.30 751.19,432.30 751.86,432.30 752.54,432.30 753.21,432.30 753.89,432.30 754.56,432.30 755.24,432.30 755.91,432.30 756.59,432.30 757.27,432.30 757.94,432.30 758.62,432.30 759.29,432.30 759.97,432.30 760.64,432.30 761.32,432.30 761.99,432.30 762.67,432.30 763.34,432.30 764.02,432.30 764.69,432.30 765.37,432.30 766.04,432.30 766.72,432.30 767.40,432.30 768.07,432.30 768.75,432.30 769.42,432.30 770.10,432.30 770.77,432.30 771.45,432.30 772.12,432.30 772.80,432.30 773.47,432.30 774.15,432.30 774.82,432.30 775.50,432.30 776.17,432.30 776.85,432.30 777.53,432.30 778.20,432.30 778.88,432.30 779.55,432.30 780.23,432.30 780.90,432.30 781.58,432.30 782.25,432.30 782.93,432.30 783.60,432.30 784.28,432.30 784.95,432.30 785.63,432.30 786.30,432.30 786.98,432.30 787.66,432.30 788.33,432.30 789.01,432.30 789.68,432.30 790.36,432.30 791.03,432.30 791.71,432.30 792.38,432.30 793.06,432.30 793.73,432.30 794.41,432.30 795.08,432.30 795.76,432.30 796.43,432.30 797.11,432.30 797.79,432.30 798.46,432.30 799.14,432.30 799.81,432.30 800.49,432.30 801.16,432.30 801.84,432.30 802.51,432.30 803.19,432.30 803.86,432.30 804.54,432.30 805.21,432.30 805.89,432.30 806.56,432.30 807.24,432.30 807.92,432.30 808.59,432.30 809.27,432.30 809.94,432.30 810.62,432.30 811.29,432.30 811.97,432.30 812.64,432.30 813.32,432.30 813.99,432.30 814.67,432.30 815.34,432.30 816.02,432.30 816.69,432.30 817.37,432.30 818.05,432.30 818.72,432.30 819.40,432.30 820.07,432.30 820.75,432.30 821.42,432.30 822.10,432.30 822.77,432.30 823.45,432.30 824.12,432.30 824.80,432.30 825.47,432.30 826.15,432.30 826.82,432.30 827.50,432.30 828.18,432.30 828.85,432.30 829.53,432.30 830.20,432.30 830.88,432.30 831.55,432.30 832.23,432.30 832.90,432.30 833.58,432.30 834.25,432.30 834.93,432.30 835.60,432.30 836.28,432.30 836.95,432.30 837.63,432.30 838.31,432.30 838.98,432.30 839.66,432.30 840.33,432.30 841.01,432.30 841.68,432.30 842.36,432.30 843.03,432.30 843.71,432.30 844.38,432.30 845.06,432.29 845.73,432.29 846.41,432.29 847.08,432.29 847.76,432.29 848.44,432.29 849.11,432.29 849.79,432.29 850.46,432.29 851.14,432.29 851.81,432.29 852.49,432.29 853.16,432.28 853.84,432.28 854.51,432.28 855.19,432.28 855.86,432.28 856.54,432.28 857.21,432.27 857.89,432.27 858.57,432.27 859.24,432.26 859.92,432.26 860.59,432.26 861.27,432.25 861.94,432.25 862.62,432.24 863.29,432.24 863.97,432.23 864.64,432.23 865.32,432.22 865.99,432.21 866.67,432.20 867.34,432.19 868.02,432.18 868.70,432.17 869.37,432.16 870.05,432.15 870.72,432.13 871.40,432.11 872.07,432.10 872.75,432.08 873.42,432.06 874.10,432.03 874.77,432.01 875.45,431.98 876.12,431.95 876.80,431.91 877.47,431.87 878.15,431.83 878.83,431.79 879.50,431.74 880.18,431.68 880.85,431.62 881.53,431.56 882.20,431.49 882.88,431.41 883.55,431.32 884.23,431.23 884.90,431.13 885.58,431.01 886.25,430.89 886.93,430.76 887.60,430.61 888.28,430.45 888.96,430.27 889.63,430.07 890.31,429.86 890.98,429.63 891.66,429.38 892.33,429.10 893.01,428.79 893.68,428.46 894.36,428.10 895.03,427.71 895.71,427.28 896.38,426.81 897.06,426.30 897.73,425.74 898.41,425.13 899.09,424.48 899.76,423.76 900.44,422.99 901.11,422.14 901.79,421.23 902.46,420.25 903.14,419.18 903.81,418.03 904.49,416.80 905.16,415.47 905.84,414.04 906.51,412.50 907.19,410.86 907.86,409.11 908.54,407.25 909.22,405.27 909.89,403.16 910.57,400.94 911.24,398.60 911.92,396.14 912.59,393.56 913.27,390.86 913.94,388.06 914.62,385.14 915.29,382.14 915.97,379.04 916.64,375.86 917.32,372.62 917.99,369.32 918.67,365.97 919.35,362.60 920.02,359.21 920.70,355.82 921.37,352.45 922.05,349.10 922.72,345.80 923.40,342.55 924.07,339.36 924.75,336.26 925.42,333.24 926.10,330.32 926.77,327.51 927.45,324.80 928.12,322.21 928.80,319.74" fill="none" stroke="#e3000f" stroke-width="3.0" stroke-linejoin="round" stroke-linecap="butt"/>
<rect x="720.40" y="426.50" width="11.60" height="11.60" fill="#e3000f" />
<rect x="743.40" y="426.50" width="11.60" height="11.60" fill="#e3000f" />
<rect x="765.90" y="426.50" width="11.60" height="11.60" fill="#e3000f" />
<rect x="788.40" y="426.50" width="11.60" height="11.60" fill="#e3000f" />
<rect x="810.70" y="426.50" width="11.60" height="11.60" fill="#e3000f" />
<rect x="833.40" y="426.50" width="11.60" height="11.60" fill="#e3000f" />
<rect x="855.20" y="426.50" width="11.60" height="11.60" fill="#e3000f" />
<rect x="877.90" y="426.50" width="11.60" height="11.60" fill="#e3000f" />
<rect x="900.30" y="406.43" width="11.60" height="11.60" fill="#e3000f" />
<rect x="923.00" y="315.00" width="11.60" height="11.60" fill="#e3000f" />
<polyline points="726.20,423.06 726.88,422.88 727.55,422.69 728.23,422.51 728.90,422.32 729.58,422.12 730.25,421.92 730.93,421.72 731.60,421.52 732.28,421.31 732.95,421.09 733.63,420.88 734.30,420.65 734.98,420.43 735.65,420.20 736.33,419.96 737.01,419.73 737.68,419.48 738.36,419.24 739.03,418.98 739.71,418.73 740.38,418.47 741.06,418.20 741.73,417.93 742.41,417.66 743.08,417.38 743.76,417.10 744.43,416.81 745.11,416.51 745.78,416.21 746.46,415.91 747.14,415.60 747.81,415.29 748.49,414.97 749.16,414.64 749.84,414.32 750.51,413.98 751.19,413.64 751.86,413.30 752.54,412.95 753.21,412.59 753.89,412.23 754.56,411.86 755.24,411.49 755.91,411.12 756.59,410.73 757.27,410.35 757.94,409.95 758.62,409.56 759.29,409.15 759.97,408.74 760.64,408.33 761.32,407.91 761.99,407.48 762.67,407.05 763.34,406.61 764.02,406.17 764.69,405.72 765.37,405.27 766.04,404.81 766.72,404.35 767.40,403.88 768.07,403.41 768.75,402.93 769.42,402.45 770.10,401.96 770.77,401.46 771.45,400.96 772.12,400.46 772.80,399.95 773.47,399.44 774.15,398.92 774.82,398.40 775.50,397.87 776.17,397.34 776.85,396.80 777.53,396.26 778.20,395.72 778.88,395.17 779.55,394.62 780.23,394.06 780.90,393.50 781.58,392.93 782.25,392.37 782.93,391.80 783.60,391.22 784.28,390.65 784.95,390.06 785.63,389.48 786.30,388.90 786.98,388.31 787.66,387.72 788.33,387.12 789.01,386.53 789.68,385.93 790.36,385.33 791.03,384.73 791.71,384.13 792.38,383.52 793.06,382.92 793.73,382.31 794.41,381.70 795.08,381.09 795.76,380.49 796.43,379.88 797.11,379.27 797.79,378.66 798.46,378.05 799.14,377.44 799.81,376.83 800.49,376.22 801.16,375.61 801.84,375.01 802.51,374.40 803.19,373.79 803.86,373.19 804.54,372.59 805.21,371.99 805.89,371.39 806.56,370.79 807.24,370.20 807.92,369.61 808.59,369.02 809.27,368.43 809.94,367.84 810.62,367.26 811.29,366.68 811.97,366.11 812.64,365.54 813.32,364.97 813.99,364.40 814.67,363.84 815.34,363.28 816.02,362.72 816.69,362.17 817.37,361.63 818.05,361.08 818.72,360.55 819.40,360.01 820.07,359.48 820.75,358.96 821.42,358.44 822.10,357.92 822.77,357.41 823.45,356.90 824.12,356.40 824.80,355.90 825.47,355.41 826.15,354.93 826.82,354.44 827.50,353.97 828.18,353.50 828.85,353.03 829.53,352.57 830.20,352.11 830.88,351.66 831.55,351.22 832.23,350.78 832.90,350.35 833.58,349.92 834.25,349.49 834.93,349.08 835.60,348.66 836.28,348.26 836.95,347.86 837.63,347.46 838.31,347.07 838.98,346.68 839.66,346.30 840.33,345.93 841.01,345.56 841.68,345.20 842.36,344.84 843.03,344.49 843.71,344.14 844.38,343.80 845.06,343.46 845.73,343.13 846.41,342.80 847.08,342.48 847.76,342.16 848.44,341.85 849.11,341.54 849.79,341.24 850.46,340.95 851.14,340.65 851.81,340.37 852.49,340.09 853.16,339.81 853.84,339.54 854.51,339.27 855.19,339.01 855.86,338.75 856.54,338.49 857.21,338.24 857.89,338.00 858.57,337.76 859.24,337.52 859.92,337.29 860.59,337.06 861.27,336.84 861.94,336.62 862.62,336.40 863.29,336.19 863.97,335.98 864.64,335.78 865.32,335.58 865.99,335.38 866.67,335.19 867.34,335.00 868.02,334.82 868.70,334.63 869.37,334.46 870.05,334.28 870.72,334.11 871.40,333.94 872.07,333.78 872.75,333.62 873.42,333.46 874.10,333.30 874.77,333.15 875.45,333.00 876.12,332.86 876.80,332.71 877.47,332.57 878.15,332.43 878.83,332.30 879.50,332.17 880.18,332.04 880.85,331.91 881.53,331.79 882.20,331.67 882.88,331.55 883.55,331.43 884.23,331.32 884.90,331.21 885.58,331.10 886.25,330.99 886.93,330.88 887.60,330.78 888.28,330.68 888.96,330.58 889.63,330.49 890.31,330.39 890.98,330.30 891.66,330.21 892.33,330.12 893.01,330.03 893.68,329.95 894.36,329.87 895.03,329.78 895.71,329.70 896.38,329.63 897.06,329.55 897.73,329.48 898.41,329.40 899.09,329.33 899.76,329.26 900.44,329.19 901.11,329.13 901.79,329.06 902.46,329.00 903.14,328.94 903.81,328.87 904.49,328.81 905.16,328.76 905.84,328.70 906.51,328.64 907.19,328.59 907.86,328.53 908.54,328.48 909.22,328.43 909.89,328.38 910.57,328.33 911.24,328.28 911.92,328.24 912.59,328.19 913.27,328.15 913.94,328.10 914.62,328.06 915.29,328.02 915.97,327.98 916.64,327.94 917.32,327.90 917.99,327.86 918.67,327.82 919.35,327.78 920.02,327.75 920.70,327.71 921.37,327.68 922.05,327.65 922.72,327.61 923.40,327.58 924.07,327.55 924.75,327.52 925.42,327.49 926.10,327.46 926.77,327.43 927.45,327.40 928.12,327.38 928.80,327.35" fill="none" stroke="#000" stroke-width="2.8" stroke-linejoin="round" stroke-linecap="butt"/>
<circle cx="726.20" cy="424.16" r="5.9" fill="#000"/>
<circle cx="749.20" cy="418.59" r="5.9" fill="#000"/>
<circle cx="771.70" cy="408.66" r="5.9" fill="#000"/>
<circle cx="794.20" cy="380.12" r="5.9" fill="#000"/>
<line x1="816.50" y1="345.78" x2="816.50" y2="364.95" stroke="#000" stroke-width="2.6" />
<line x1="809.90" y1="345.78" x2="823.10" y2="345.78" stroke="#000" stroke-width="2.6" />
<line x1="809.90" y1="364.95" x2="823.10" y2="364.95" stroke="#000" stroke-width="2.6" />
<circle cx="816.50" cy="355.37" r="5.9" fill="#000"/>
<circle cx="839.20" cy="337.52" r="5.9" fill="#000"/>
<line x1="861.00" y1="318.79" x2="861.00" y2="359.60" stroke="#000" stroke-width="2.6" />
<line x1="854.40" y1="318.79" x2="867.60" y2="318.79" stroke="#000" stroke-width="2.6" />
<line x1="854.40" y1="359.60" x2="867.60" y2="359.60" stroke="#000" stroke-width="2.6" />
<circle cx="861.00" cy="339.20" r="5.9" fill="#000"/>
<line x1="883.70" y1="317.46" x2="883.70" y2="359.83" stroke="#000" stroke-width="2.6" />
<line x1="877.10" y1="317.46" x2="890.30" y2="317.46" stroke="#000" stroke-width="2.6" />
<line x1="877.10" y1="359.83" x2="890.30" y2="359.83" stroke="#000" stroke-width="2.6" />
<circle cx="883.70" cy="338.64" r="5.9" fill="#000"/>
<circle cx="906.10" cy="336.08" r="5.9" fill="#000"/>
<line x1="928.80" y1="293.59" x2="928.80" y2="348.01" stroke="#000" stroke-width="2.6" />
<line x1="922.20" y1="293.59" x2="935.40" y2="293.59" stroke="#000" stroke-width="2.6" />
<line x1="922.20" y1="348.01" x2="935.40" y2="348.01" stroke="#000" stroke-width="2.6" />
<circle cx="928.80" cy="320.80" r="5.9" fill="#000"/>
<line x1="716.20" y1="297.30" x2="740.90" y2="297.30" stroke="#000" stroke-width="2.8" />
<circle cx="728.80" cy="297.30" r="5.9" fill="#000"/>
<line x1="716.20" y1="320.60" x2="740.90" y2="320.60" stroke="#e3000f" stroke-width="3.0" />
<rect x="722.50" y="314.80" width="11.60" height="11.60" fill="#e3000f" />
<text x="748.50" y="302.60" font-size="13.5" text-anchor="start" font-weight="normal" font-style="normal" fill="#000" >WT</text>
<text x="748.50" y="325.40" font-size="13.5" text-anchor="start" font-weight="normal" font-style="italic" fill="#e3000f" style="stroke:#e3000f" >Δnpt1</text>
<text transform="translate(655.00,356.50) rotate(-90)" x="0" y="0" font-size="13.75" text-anchor="middle">Relative growth (%)</text>
<text x="1.00" y="16.80" font-size="20" text-anchor="start" font-weight="bold" font-style="normal" fill="#000" style="stroke:none" >a</text>
<text x="324.00" y="16.80" font-size="20" text-anchor="start" font-weight="bold" font-style="normal" fill="#000" style="stroke:none" >b</text>
<text x="642.20" y="16.80" font-size="20" text-anchor="start" font-weight="bold" font-style="normal" fill="#000" style="stroke:none" >c</text>
<text x="1.20" y="285.50" font-size="20" text-anchor="start" font-weight="bold" font-style="normal" fill="#000" style="stroke:none" >d</text>
<text x="324.00" y="285.50" font-size="20" text-anchor="start" font-weight="bold" font-style="normal" fill="#000" style="stroke:none" >e</text>
<text x="642.50" y="285.50" font-size="20" text-anchor="start" font-weight="bold" font-style="normal" fill="#000" style="stroke:none" >f</text>
</svg>
</body></html>
